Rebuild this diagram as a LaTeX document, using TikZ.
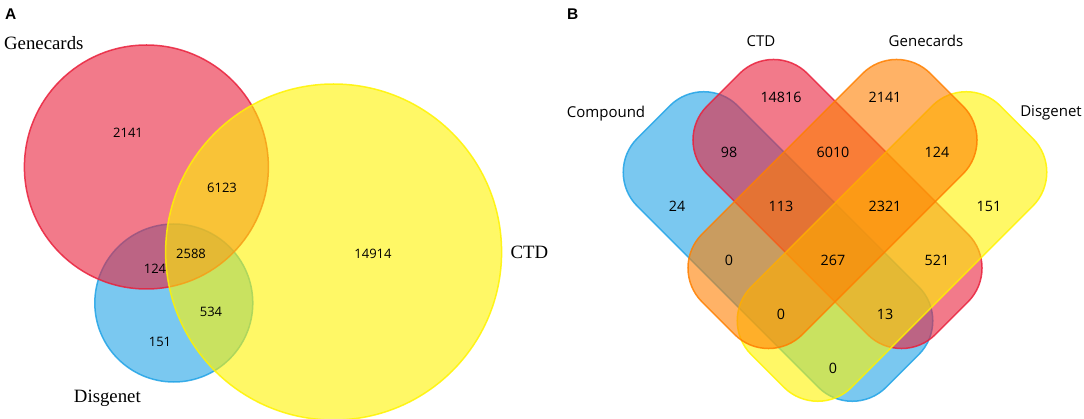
\documentclass[tikz,border=0pt]{standalone}
\usepackage{fontspec}
\setmainfont{Liberation Serif}
\newfontfamily\uifont{Open Sans}
\newfontfamily\panelfont{Liberation Sans}
\definecolor{cRed}{RGB}{233,33,60}
\definecolor{cBlue}{RGB}{33,163,230}
\definecolor{cYellow}{RGB}{255,243,0}
\definecolor{cOrange}{RGB}{255,127,0}
\begin{document}
\begin{tikzpicture}[x=1pt,y=-1pt,
  setA/.style={circle, draw, line width=1.5pt, fill opacity=0.6, draw opacity=0.85, inner sep=0pt},
  setB/.style={rectangle, draw, line width=1.5pt, rounded corners=48pt, fill opacity=0.6, draw opacity=0.85, inner sep=0pt, minimum height=142pt},
  numA/.style={inner sep=0pt, font=\uifont\fontsize{13}{15}\selectfont},
  numB/.style={inner sep=0pt, font=\uifont\fontsize{14.3}{16}\selectfont},
  labA/.style={inner sep=0pt, anchor=base, font=\fontsize{18.8}{21}\selectfont},
  labB/.style={inner sep=0pt, anchor=base, font=\uifont\fontsize{15}{18}\selectfont},
  panel/.style={inner sep=0pt, anchor=base west, font=\panelfont\bfseries\fontsize{15.5}{18}\selectfont}]
\useasboundingbox (0,0) rectangle (1084,419);

% ---------------- Panel A ----------------
\node[panel] (pA) at (5,19.3) {A};
\node[setA, fill=cBlue, draw=cBlue, minimum size=158pt] (aDis) at (173.8,303) {};
\node[setA, fill=cRed, draw=cRed, minimum size=244pt] (aGene) at (146.4,167) {};
\node[setA, fill=cYellow, draw=cYellow, minimum size=336pt] (aCTD) at (333.6,252) {};

\node[labA] (laGene) at (43.8,49.3) {Genecards};
\node[labA] (laCTD) at (529.5,259) {CTD};
\node[labA] (laDis) at (107.4,402.7) {Disgenet};

\node[numA] (a1) at (128,133) {2141};
\node[numA] (a2) at (222,188) {6123};
\node[numA] (a3) at (191,254) {2588};
\node[numA] (a4) at (155,269) {124};
\node[numA] (a5) at (373,254) {14914};
\node[numA] (a6) at (211,312) {534};
\node[numA] (a7) at (160,342) {151};

% ---------------- Panel B ----------------
\node[panel] (pB) at (567,19.3) {B};
\node[setB, fill=cBlue, draw=cBlue, minimum width=352pt, rotate=-45] (bComp) at (778,246.5) {};
\node[setB, fill=cRed, draw=cRed, minimum width=323pt, rotate=-45] (bCTD) at (837.5,204) {};
\node[setB, fill=cYellow, draw=cYellow, minimum width=352pt, rotate=45] (bDis) at (892,246.5) {};
\node[setB, fill=cOrange, draw=cOrange, minimum width=323pt, rotate=45] (bGene) at (832.5,204) {};

\node[labB] (lbCTD) at (761,46.7) {CTD};
\node[labB] (lbGene) at (926,46.7) {Genecards};
\node[labB] (lbComp) at (606,117.3) {Compound};
\node[labB] (lbDis) at (1051,116.7) {Disgenet};

\node[numB] (b1) at (781,97.5) {14816};
\node[numB] (b2) at (885,97.5) {2141};
\node[numB] (b3) at (729,152) {98};
\node[numB] (b4) at (833,152) {6010};
\node[numB] (b5) at (937,152) {124};
\node[numB] (b6) at (677,206) {24};
\node[numB] (b7) at (781,206) {113};
\node[numB] (b8) at (885,206) {2321};
\node[numB] (b9) at (989,206) {151};
\node[numB] (b10) at (729,260) {0};
\node[numB] (b11) at (833,260) {267};
\node[numB] (b12) at (937,260) {521};
\node[numB] (b13) at (781,314.5) {0};
\node[numB] (b14) at (885,314.5) {13};
\node[numB] (b15) at (833,368.5) {0};
\end{tikzpicture}
\end{document}
